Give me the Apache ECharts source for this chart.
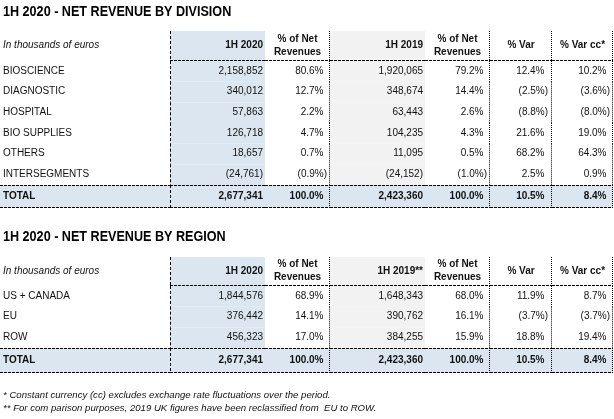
<!DOCTYPE html>
<html><head><meta charset="utf-8">
<script src="https://cdn.jsdelivr.net/npm/echarts@6/dist/echarts.min.js"></script>
<style>html,body{margin:0;padding:0;background:#fff}#c{width:614px;height:419px}</style>
</head><body><div id="c"></div>
<script>
// ---------- DATA ----------
const title1 = '1H 2020 - NET REVENUE BY DIVISION';
const title2 = '1H 2020 - NET REVENUE BY REGION';
const unitLabel = 'In thousands of euros';
const headers1 = ['1H 2020', '% of Net\nRevenues', '1H 2019', '% of Net\nRevenues', '% Var', '% Var cc*'];
const headers2 = ['1H 2020', '% of Net\nRevenues', '1H 2019**', '% of Net\nRevenues', '% Var', '% Var cc*'];
const divisions = ['BIOSCIENCE', 'DIAGNOSTIC', 'HOSPITAL', 'BIO SUPPLIES', 'OTHERS', 'INTERSEGMENTS', 'TOTAL'];
const divRev2020 = [2158852, 340012, 57863, 126718, 18657, -24761, 2677341];
const divPct2020 = [80.6, 12.7, 2.2, 4.7, 0.7, -0.9, 100.0];
const divRev2019 = [1920065, 348674, 63443, 104235, 11095, -24152, 2423360];
const divPct2019 = [79.2, 14.4, 2.6, 4.3, 0.5, -1.0, 100.0];
const divVar = [12.4, -2.5, -8.8, 21.6, 68.2, 2.5, 10.5];
const divVarCc = [10.2, -3.6, -8.0, 19.0, 64.3, 0.9, 8.4];
const regions = ['US + CANADA', 'EU', 'ROW', 'TOTAL'];
const regRev2020 = [1844576, 376442, 456323, 2677341];
const regPct2020 = [68.9, 14.1, 17.0, 100.0];
const regRev2019 = [1648343, 390762, 384255, 2423360];
const regPct2019 = [68.0, 16.1, 15.9, 100.0];
const regVar = [11.9, -3.7, 18.8, 10.5];
const regVarCc = [8.7, -3.7, 19.4, 8.4];
const footnote1 = '* Constant currency (cc) excludes exchange rate fluctuations over the period.';
const footnote2 = '** For com parison purposes, 2019 UK figures have been reclassified from  EU to ROW.';

// ---------- LAYOUT ----------
const COLS = [0, 170, 265, 330, 425, 490, 552, 613];
const FONT = 'Liberation Sans, Arial, sans-serif';
const BLUE = '#dce6f1', GREY = '#f2f2f2', INK = '#111';
function rowEdges(n, headH, rowH, totH) {
  const e = [0, headH];
  for (let i = 0; i < n; i++) e.push(e[e.length - 1] + rowH);
  e.push(e[e.length - 1] + totH);
  return e;
}
const edges1 = rowEdges(6, 30, 20.667, 23);
const edges2 = rowEdges(3, 29, 20.667, 25);

function fmtNum(v) {
  const s = Math.abs(v).toLocaleString('en-US');
  return v < 0 ? '(' + s + ')' : s;
}
function fmtPct(v) {
  const s = Math.abs(v).toFixed(1) + '%';
  return v < 0 ? '(' + s + ')' : s;
}
function buildCells(headers, labels, cols) {
  const cells = [];
  const n = labels.length;
  cells.push({ c: 0, r: 0, text: unitLabel, kind: 'head' });
  headers.forEach((h, i) => cells.push({ c: i + 1, r: 0, text: h, kind: 'head' }));
  labels.forEach((lab, i) => {
    const kind = i === n - 1 ? 'total' : 'body';
    cells.push({ c: 0, r: i + 1, text: lab, kind });
    cols.forEach((arr, j) => {
      const pct = j !== 0 && j !== 2;
      const v = arr[i];
      cells.push({ c: j + 1, r: i + 1, text: pct ? fmtPct(v) : fmtNum(v), kind, neg: v < 0, pct });
    });
  });
  return cells;
}
const cells1 = buildCells(headers1, divisions, [divRev2020, divPct2020, divRev2019, divPct2019, divVar, divVarCc]);
const cells2 = buildCells(headers2, regions, [regRev2020, regPct2020, regRev2019, regPct2019, regVar, regVarCc]);

function makeRender(cells, edges) {
  return function (params, api) {
    const cell = cells[params.dataIndex];
    const p0 = api.coord([COLS[cell.c], edges[cell.r]]);
    const p1 = api.coord([COLS[cell.c + 1], edges[cell.r + 1]]);
    const x0 = p0[0], y0 = p0[1], x1 = p1[0], y1 = p1[1];
    const ch = [];
    let fill = null;
    if (cell.kind === 'total') fill = BLUE;
    else if (cell.c === 1) fill = BLUE;
    else if (cell.c === 3) fill = GREY;
    if (fill) ch.push({ type: 'rect', z2: 0, shape: { x: x0, y: y0, width: x1 - x0, height: y1 - y0 }, style: { fill } });
    // text
    const yc = (y0 + y1) / 2 - 0.5;
    let tx, align;
    const bold = cell.kind !== 'body' && !(cell.kind === 'head' && cell.c === 0);
    const italic = cell.kind === 'head' && cell.c === 0;
    if (cell.c === 0) { tx = x0 + 3; align = 'left'; }
    else if (cell.kind === 'head') {
      if (cell.c === 1 || cell.c === 3) { tx = x1 - 2; align = 'right'; }
      else { tx = (x0 + x1) / 2; align = 'center'; }
    } else {
      align = 'right';
      const rightPad = [0, 2, 3, 2, 3, 4, 3][cell.c];
      tx = x1 - rightPad;
      if (cell.pct && !cell.neg) tx -= 3.5;
    }
    ch.push({ type: 'text', z2: 5, style: {
      text: cell.text, x: tx, y: yc, align, verticalAlign: 'middle',
      fill: INK, fontSize: 10, fontFamily: FONT, fontWeight: bold ? 'bold' : 'normal',
      fontStyle: italic ? 'italic' : 'normal', lineHeight: 13 } });
    // borders
    const ls = (x1_, y1_, x2_, y2_, dash) => ch.push({ type: 'line', z2: 10,
      shape: { x1: x1_, y1: y1_, x2: x2_, y2: y2_ },
      style: { stroke: '#000', lineWidth: 1, lineDash: dash } });
    if (cell.c === 1) ls(x0 + 0.5, y0, x0 + 0.5, y1, [3, 2]);
    if ([2, 4, 5, 6].includes(cell.c)) ls(x1 - 0.5, y0, x1 - 0.5, y1, [1, 1]);
    if (cell.kind === 'head' && cell.c >= 1) ls(x0, y1 - 0.5, x1, y1 - 0.5, [3, 1]);
    if (cell.kind === 'total') { ls(x0, y0 + 0.5, x1, y0 + 0.5, [3, 1]); ls(x0, y1 - 0.5, x1, y1 - 0.5, [3, 1]); }
    return { type: 'group', children: ch };
  };
}

const chart = echarts.init(document.getElementById('c'), null, { renderer: 'canvas' });
const titleTextStyle = (t) => ({ text: t, fill: '#000', fontFamily: FONT, fontWeight: 'bold', fontSize: 14 });
const noteStyle = { fontFamily: FONT, fontStyle: 'italic', fontWeight: 'normal', fontSize: 9.6, color: '#111' };
const hiddenX = (i) => ({ type: 'value', gridIndex: i, min: 0, max: 614, show: false });
chart.setOption({
  animation: false,
  backgroundColor: '#fff',
  title: [
    { text: footnote1, left: 3, top: 390, padding: 0, textStyle: noteStyle },
    { text: footnote2, left: 3, top: 403, padding: 0, textStyle: noteStyle }
  ],
  graphic: [
    { type: 'text', left: 3, top: 5, scaleX: 0.9, style: titleTextStyle(title1) },
    { type: 'text', left: 3, top: 230, scaleX: 0.9, style: titleTextStyle(title2) }
  ],
  grid: [
    { left: 0, width: 614, top: 31, height: edges1[edges1.length - 1] },
    { left: 0, width: 614, top: 257, height: edges2[edges2.length - 1] }
  ],
  xAxis: [hiddenX(0), hiddenX(1)],
  yAxis: [
    { type: 'value', gridIndex: 0, min: 0, max: edges1[edges1.length - 1], inverse: true, show: false },
    { type: 'value', gridIndex: 1, min: 0, max: edges2[edges2.length - 1], inverse: true, show: false }
  ],
  series: [
    { type: 'custom', xAxisIndex: 0, yAxisIndex: 0, renderItem: makeRender(cells1, edges1), data: cells1.map(c => [c.c, c.r]), clip: false, silent: true },
    { type: 'custom', xAxisIndex: 1, yAxisIndex: 1, renderItem: makeRender(cells2, edges2), data: cells2.map(c => [c.c, c.r]), clip: false, silent: true }
  ]
});
</script></body></html>
